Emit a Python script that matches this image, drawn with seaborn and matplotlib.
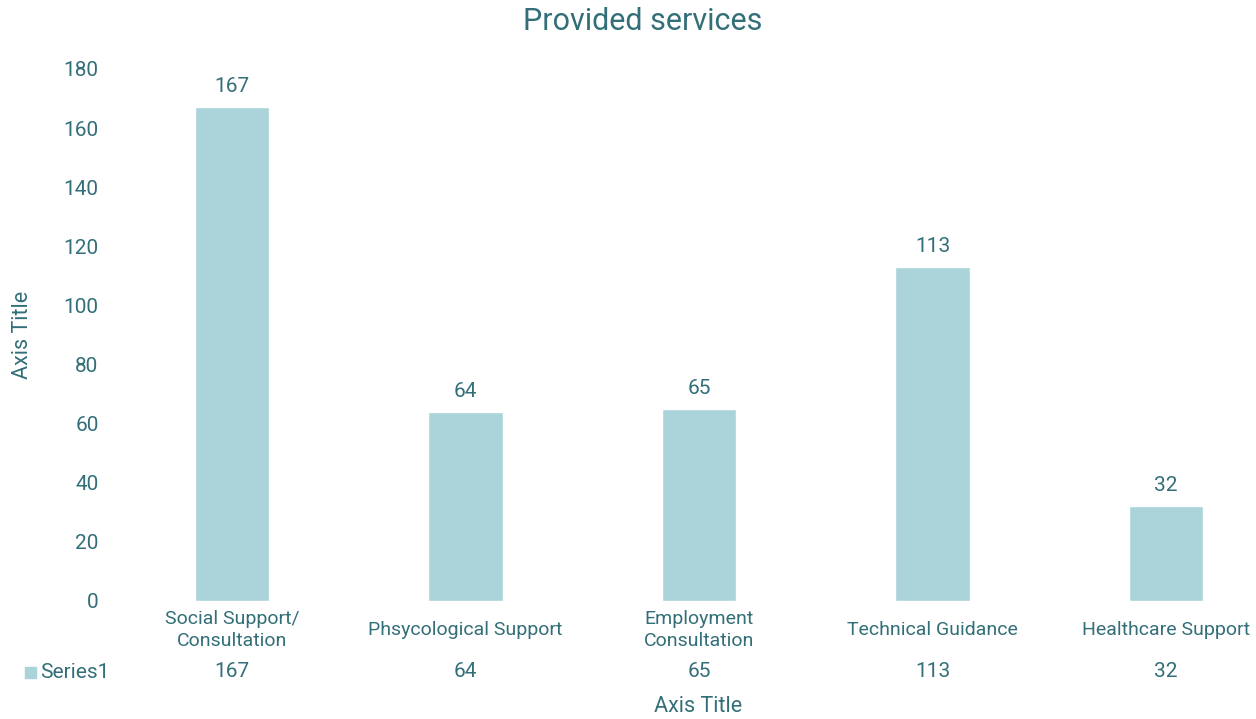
import matplotlib
matplotlib.use("Agg")
import matplotlib.pyplot as plt
from matplotlib.patches import Rectangle
import seaborn as sns
import pandas as pd

categories = ["Social Support/\nConsultation", "Phsycological Support",
              "Employment\nConsultation", "Technical Guidance", "Healthcare Support"]
values = [167, 64, 65, 113, 32]
series_name = "Series1"
y_ticks = [0, 20, 40, 60, 80, 100, 120, 140, 160, 180]

TEXT = "#336f78"
BAR = "#aad4da"

sns.set_theme(style="white")
plt.rcParams["font.family"] = ["Roboto", "DejaVu Sans"]

W, H = 1256, 719
fig = plt.figure(figsize=(W / 100, H / 100), dpi=100)
left_px, right_px, top_px, bottom_px = 115.25, 1256, 69, 601
ax = fig.add_axes([left_px / W, 1 - bottom_px / H,
                   (right_px - left_px) / W, (bottom_px - top_px) / H])

df = pd.DataFrame({"service": categories, "count": values})
sns.barplot(data=df, x="service", y="count", color=BAR, width=0.317,
            saturation=1, ax=ax)

step = 233.5
ax.set_xlim(-0.5, -0.5 + (right_px - left_px) / step)
ax.set_ylim(0, 180)
ax.set_yticks(y_ticks)
ax.tick_params(axis="y", labelsize=15, colors=TEXT, length=0, pad=12)
ax.tick_params(axis="x", labelsize=14, colors=TEXT, length=0, pad=4)
for lbl in ax.get_xticklabels():
    lbl.set_linespacing(1.35)
    lbl.set_verticalalignment("center")
    lbl.set_y(-0.044)
for s in ax.spines.values():
    s.set_visible(False)
ax.grid(False)
ax.set_xlabel("")
ax.set_ylabel("Axis Title", fontsize=15.5, color=TEXT, labelpad=22)

ax.bar_label(ax.containers[0], padding=8, fontsize=15, color=TEXT)

# data table row beneath the categories
row_y = 1 - (672 - top_px) / (bottom_px - top_px)
for i, v in enumerate(values):
    ax.text(i, row_y, str(v), transform=ax.get_xaxis_transform(),
            ha="center", va="center", fontsize=15, color=TEXT, clip_on=False)
fig.patches.append(Rectangle((25 / W, 1 - 678 / H), 11 / W, 11 / H,
                             transform=fig.transFigure, color=BAR))
fig.text(40 / W, 1 - 672 / H, series_name, ha="left", va="center",
         fontsize=15, color=TEXT)

fig.text(698 / W, 1 - 706 / H, "Axis Title", ha="center", va="center",
         fontsize=15.5, color=TEXT)
fig.text(643 / W, 1 - 22 / H, "Provided services", ha="center", va="center",
         fontsize=22, color=TEXT)

fig.savefig("out.png", dpi=100, facecolor="white")
